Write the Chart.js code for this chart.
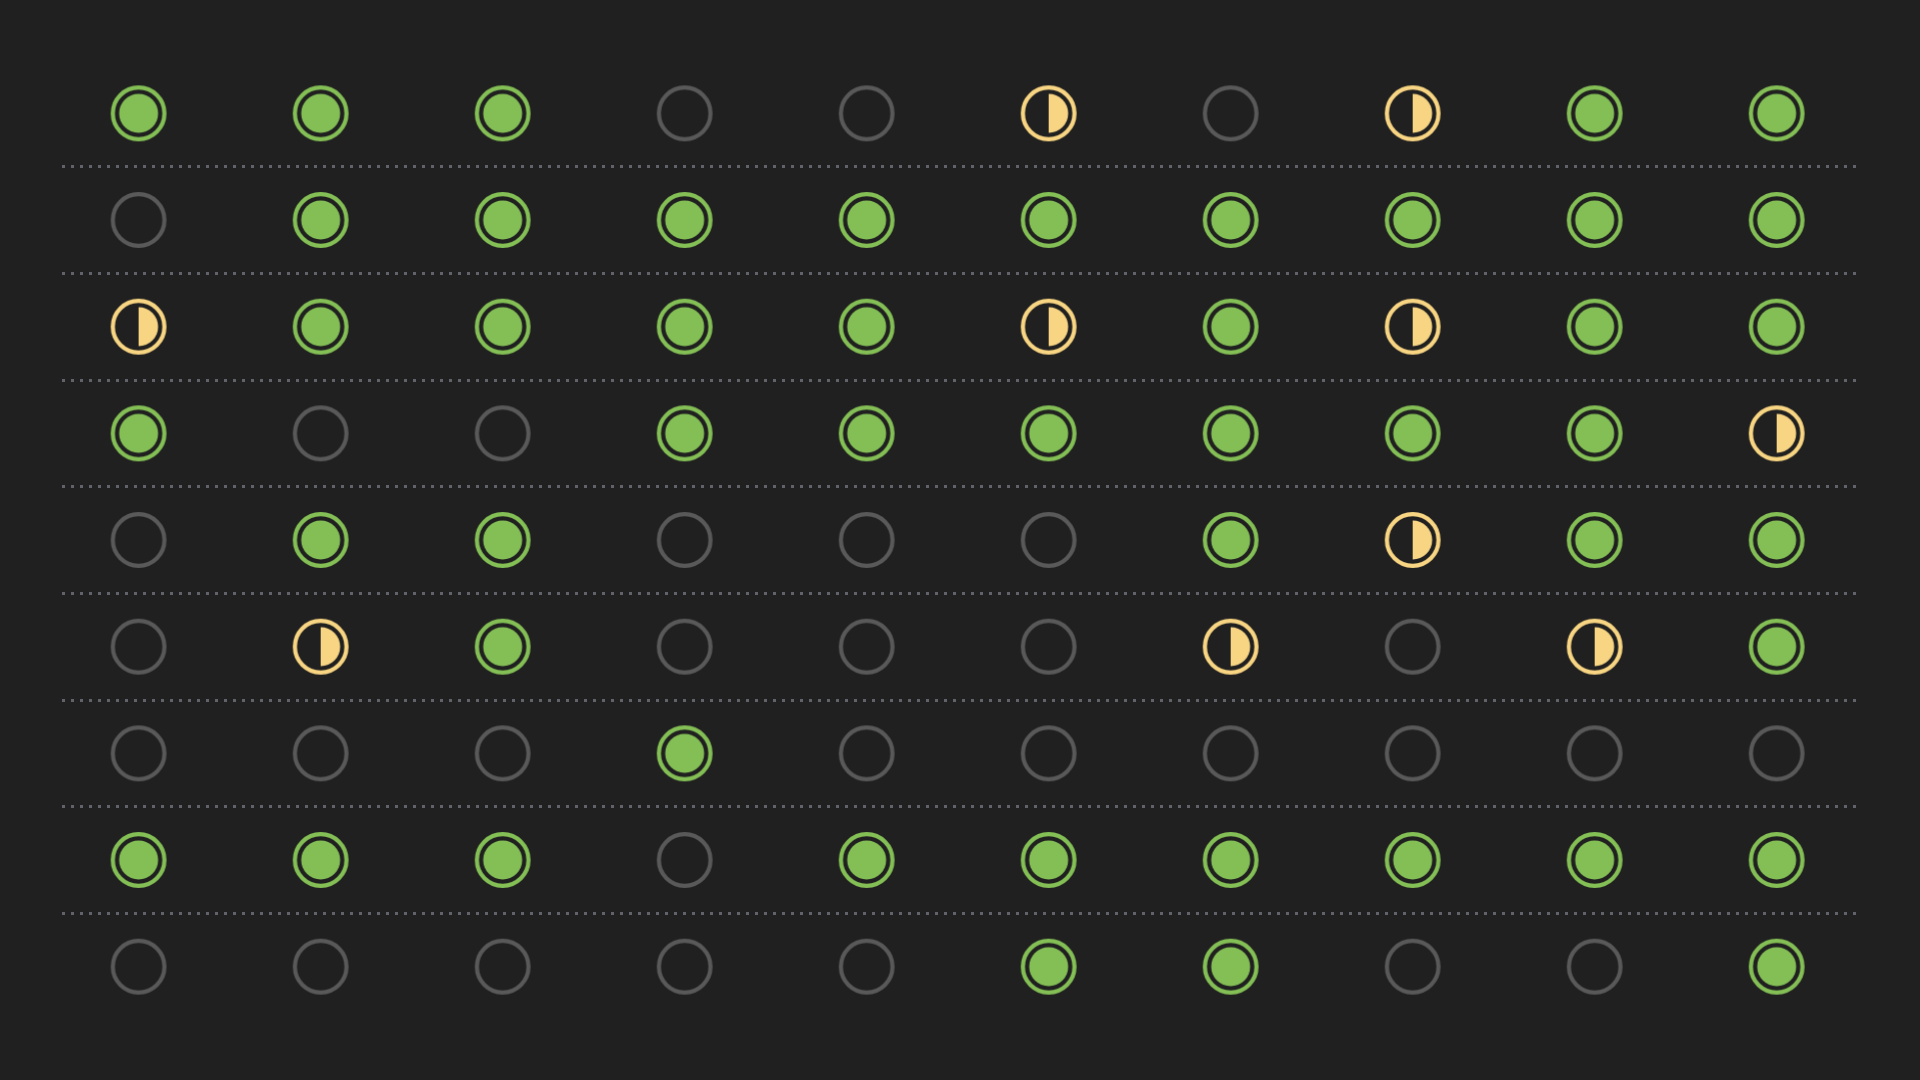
<!DOCTYPE html>
<html>
<head>
<meta charset="utf-8">
<script src="https://cdn.jsdelivr.net/npm/chart.js@4.4.1/dist/chart.umd.min.js"></script>
<style>
  html, body { margin: 0; padding: 0; background: #202020; }
  #wrap { width: 1920px; height: 1080px; }
</style>
</head>
<body>
<div id="wrap"><canvas id="matrixChart" width="1920" height="1080"></canvas></div>
<script>
// 2 = full, 1 = half, 0 = none
const row1 = [2, 2, 2, 0, 0, 1, 0, 1, 2, 2];
const row2 = [0, 2, 2, 2, 2, 2, 2, 2, 2, 2];
const row3 = [1, 2, 2, 2, 2, 1, 2, 1, 2, 2];
const row4 = [2, 0, 0, 2, 2, 2, 2, 2, 2, 1];
const row5 = [0, 2, 2, 0, 0, 0, 2, 1, 2, 2];
const row6 = [0, 1, 2, 0, 0, 0, 1, 0, 1, 2];
const row7 = [0, 0, 0, 2, 0, 0, 0, 0, 0, 0];
const row8 = [2, 2, 2, 0, 2, 2, 2, 2, 2, 2];
const row9 = [0, 0, 0, 0, 0, 2, 2, 0, 0, 2];
const rows = [row1, row2, row3, row4, row5, row6, row7, row8, row9];

const colors = { full: "#84bf56", half: "#f8d583", none: "#595959", grid: "#62626a" };

function glyph(kind) {
  const c = document.createElement("canvas");
  c.width = 64;
  c.height = 64;
  const ctx = c.getContext("2d");
  const color = kind === 2 ? colors.full : kind === 1 ? colors.half : colors.none;
  ctx.strokeStyle = color;
  ctx.lineWidth = 4.2;
  ctx.beginPath();
  ctx.arc(32, 32, 25.8, 0, Math.PI * 2);
  ctx.stroke();
  ctx.fillStyle = color;
  if (kind === 2) {
    ctx.beginPath();
    ctx.arc(32, 32, 19.5, 0, Math.PI * 2);
    ctx.fill();
  } else if (kind === 1) {
    ctx.beginPath();
    ctx.moveTo(32, 12.5);
    ctx.arc(32, 32, 19.5, -Math.PI / 2, Math.PI / 2);
    ctx.closePath();
    ctx.fill();
  }
  return c;
}

function pointsFor(kind) {
  const pts = [];
  rows.forEach((row, r) => row.forEach((v, col) => {
    if (v === kind) pts.push({ x: col, y: r });
  }));
  return pts;
}

const datasets = [0, 1, 2].map(kind => ({
  label: ["none", "half", "full"][kind],
  data: pointsFor(kind),
  pointStyle: glyph(kind),
  pointRadius: 28,
  showLine: false
}));

new Chart(document.getElementById("matrixChart"), {
  type: "scatter",
  data: { datasets },
  options: {
    responsive: false,
    animation: false,
    events: [],
    layout: { padding: { left: 62, right: 62, top: 60, bottom: 60 } },
    plugins: { legend: { display: false }, tooltip: { enabled: false } },
    scales: {
      x: { display: false, min: -0.421, max: 9.447 },
      y: {
        min: -0.5,
        max: 8.5,
        reverse: true,
        afterBuildTicks: scale => {
          scale.ticks = [0.5, 1.5, 2.5, 3.5, 4.5, 5.5, 6.5, 7.5].map(value => ({ value }));
        },
        ticks: { display: false },
        border: { display: false, dash: [3, 6] },
        grid: { color: colors.grid, lineWidth: 3, drawTicks: false }
      }
    }
  }
});
</script>
</body>
</html>
